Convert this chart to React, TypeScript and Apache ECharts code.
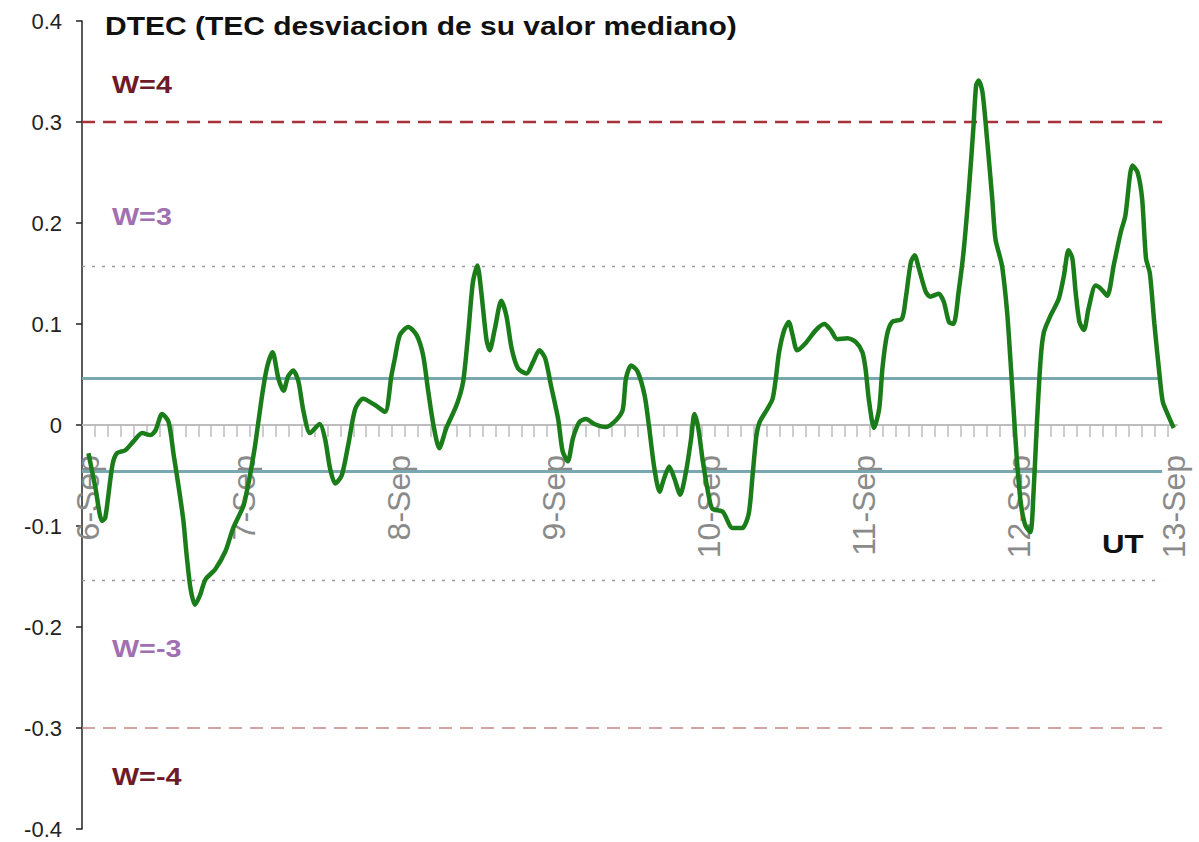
import React, { useEffect, useRef } from "react";
import * as echarts from "echarts";

// ---- Data (hours since 6-Sep 00 UT, DTEC values) ----
const hours = [
  0.0, 1.1, 2.1, 2.6, 3.7, 4.4, 5.7, 7.0, 8.3, 9.6, 10.4, 11.4, 12.4, 13.2, 14.0, 14.7, 15.2, 15.8, 16.5, 17.3,
  18.1, 19.6, 21.2, 22.4, 24.0, 24.5, 25.0, 25.8, 26.8, 27.6, 28.5, 29.4, 30.2, 30.9, 31.7, 32.5, 33.3, 34.3, 35.8, 36.6,
  37.4, 38.2, 39.2, 40.2, 41.3, 42.5, 44.3, 45.9, 46.9, 47.4, 48.2, 49.5, 50.8, 51.8, 52.6, 53.4, 54.3, 55.4, 57.0, 58.0,
  58.8, 59.5, 60.2, 60.8, 61.6, 62.1, 62.9, 63.9, 64.7, 65.5, 66.5, 67.8, 68.8, 69.8, 70.7, 71.6, 72.7, 73.4, 74.2, 75.0,
  76.0, 77.0, 78.3, 80.1, 81.7, 82.7, 83.2, 84.0, 85.0, 86.1, 86.8, 87.6, 88.4, 89.1, 89.9, 90.7, 91.6, 92.5, 93.3, 93.8,
  94.4, 95.1, 96.1, 96.6, 98.2, 99.7, 101.2, 102.2, 102.8, 103.4, 103.9, 105.1, 105.9, 106.4, 106.9, 107.7, 108.4, 109.0, 109.7, 111.0,
  112.6, 113.9, 114.9, 115.9, 117.5, 118.8, 119.8, 120.3, 120.8, 121.6, 122.4, 122.9, 123.6, 124.4, 125.9, 126.5, 127.3, 127.9, 128.5, 129.6,
  130.3, 131.6, 132.4, 133.2, 133.9, 134.7, 135.5, 136.3, 137.0, 137.4, 137.8, 138.4, 139.1, 139.9, 140.4, 141.4, 142.2, 142.7, 143.2, 143.7,
  144.3, 145.0, 145.8, 146.3, 146.8, 147.4, 147.9, 148.9, 150.2, 151.0, 151.7, 152.3, 152.8, 153.4, 154.1, 154.8, 155.9, 156.7, 157.7, 158.7,
  159.8, 160.5, 161.6, 162.4, 163.1, 163.7, 164.3, 165.0, 165.8, 166.3, 167.1, 168.0,
];
const dtec = [
  -0.028, -0.063, -0.095, -0.092, -0.040, -0.028, -0.025, -0.016, -0.008, -0.010, -0.005, 0.011, 0.003, -0.030, -0.063, -0.095, -0.129, -0.162, -0.178, -0.168,
  -0.153, -0.143, -0.125, -0.102, -0.080, -0.066, -0.050, -0.020, 0.026, 0.056, 0.072, 0.046, 0.034, 0.048, 0.054, 0.043, 0.013, -0.008, 0.001, -0.013,
  -0.043, -0.058, -0.050, -0.020, 0.016, 0.026, 0.020, 0.013, 0.049, 0.065, 0.089, 0.097, 0.089, 0.069, 0.033, 0.000, -0.023, -0.003, 0.020, 0.043,
  0.092, 0.141, 0.158, 0.132, 0.085, 0.074, 0.095, 0.123, 0.108, 0.076, 0.056, 0.051, 0.062, 0.074, 0.066, 0.039, 0.006, -0.026, -0.036, -0.013,
  0.003, 0.006, 0.001, -0.002, 0.005, 0.015, 0.046, 0.059, 0.053, 0.029, -0.003, -0.043, -0.066, -0.053, -0.041, -0.053, -0.069, -0.046, -0.013, 0.011,
  -0.003, -0.036, -0.073, -0.083, -0.086, -0.102, -0.102, -0.088, -0.050, -0.010, 0.003, 0.016, 0.026, 0.046, 0.072, 0.094, 0.102, 0.089, 0.074, 0.081,
  0.094, 0.100, 0.094, 0.085, 0.086, 0.082, 0.072, 0.055, 0.025, -0.003, 0.016, 0.056, 0.089, 0.102, 0.105, 0.125, 0.161, 0.168, 0.156, 0.132,
  0.127, 0.130, 0.122, 0.102, 0.100, 0.132, 0.174, 0.234, 0.296, 0.336, 0.341, 0.329, 0.283, 0.224, 0.184, 0.158, 0.112, 0.066, 0.016, -0.033,
  -0.076, -0.099, -0.106, -0.066, 0.000, 0.066, 0.092, 0.108, 0.125, 0.148, 0.173, 0.165, 0.132, 0.102, 0.094, 0.115, 0.138, 0.135, 0.128, 0.158,
  0.191, 0.207, 0.257, 0.250, 0.224, 0.165, 0.150, 0.100, 0.049, 0.023, 0.010, -0.003,
];

const dayLabels = ["6-Sep", "7-Sep", "8-Sep", "9-Sep", "10-Sep", "11-Sep", "12-Sep", "13-Sep"];
const dayTickHours = [0, 24, 48, 72, 96, 120, 144, 168];
const minorTickHours = Array.from({ length: 84 }, (_, i) => 2 * i + 1);

// thresholds
const W4 = 0.3;
const Wm4 = -0.3;
const W3 = 0.157;
const Wm3 = -0.154;
const bandUpper = 0.046;
const bandLower = -0.046;

const X_MIN = -1;
const X_MAX = 168.5;
const LINE_END = 166.2;

const Y_MIN = -0.4;
const Y_MAX = 0.4;
const GRID_TOP = 21;
const GRID_BOTTOM = 13;
const CHART_H = 842;

const FONT = '"Liberation Sans", Arial, sans-serif';

export default function App() {
  const ref = useRef<HTMLDivElement>(null);
  useEffect(() => {
    document.body.style.margin = "0";
    const chart = echarts.init(ref.current!, null, { renderer: "svg" });
    const plotH = CHART_H - GRID_TOP - GRID_BOTTOM;
    // distance from the grid bottom up to the y = 0 line
    const zeroOffset = -plotH * ((0 - Y_MIN) / (Y_MAX - Y_MIN));
    const hline = (v: number, color: string, width: number, type: any) => ({
      type: "line",
      data: [
        [X_MIN, v],
        [LINE_END, v],
      ],
      symbol: "none",
      silent: true,
      lineStyle: { color, width, type },
      z: 2,
    });
    const textEl = (x: number, y: number, text: string, color: string, size: number, sx = 1.2) => ({
      type: "text",
      x,
      y,
      scaleX: sx,
      style: {
        text,
        fill: color,
        font: `bold ${size}px ${FONT}`,
        textVerticalAlign: "middle",
        textAlign: "left",
      },
      z: 10,
    });
    chart.setOption({
      animation: false,
      backgroundColor: "#ffffff",
      grid: {
        left: 82,
        right: 22,
        top: GRID_TOP,
        bottom: GRID_BOTTOM,
        containLabel: false,
        outerBoundsMode: "none",
      },
      xAxis: {
        type: "value",
        min: X_MIN,
        max: X_MAX,
        position: "bottom",
        offset: zeroOffset,
        splitLine: { show: false },
        axisLine: { onZero: false, lineStyle: { color: "#bdbdbd", width: 2 } },
        axisTick: {
          show: true,
          customValues: minorTickHours,
          length: 12,
          lineStyle: { color: "#bdbdbd", width: 1.5 },
        },
        axisLabel: {
          customValues: dayTickHours,
          rotate: 90,
          margin: 30,
          color: "#8a8a8a",
          fontSize: 32,
          fontFamily: FONT,
          formatter: (v: number) => dayLabels[Math.round(v / 24)] ?? "",
        },
      },
      yAxis: {
        type: "value",
        min: Y_MIN,
        max: Y_MAX,
        interval: 0.1,
        splitLine: { show: false },
        axisLine: { show: true, onZero: false, lineStyle: { color: "#222", width: 1.5 } },
        axisTick: { show: true, length: 6, lineStyle: { color: "#222", width: 1.5 } },
        axisLabel: {
          margin: 20,
          color: "#222",
          fontSize: 22,
          fontFamily: FONT,
          formatter: (v: number) => (Math.abs(v) < 1e-9 ? "0" : v.toFixed(1)),
        },
      },
      series: [
        hline(W3, "#9a9a9a", 1.5, [3, 7]),
        hline(Wm3, "#9a9a9a", 1.5, [3, 7]),
        hline(W4, "#a8323a", 2.5, [13, 8]),
        hline(Wm4, "#c48888", 1.5, [13, 8]),
        hline(bandUpper, "#79a8b0", 3, "solid"),
        hline(bandLower, "#79a8b0", 3, "solid"),
        {
          type: "line",
          data: hours.map((h, i) => [h, dtec[i]]),
          symbol: "none",
          smooth: 0.25,
          lineStyle: { color: "#1a7d1a", width: 4.5 },
          z: 5,
        },
      ],
      graphic: [
        textEl(105, 26, "DTEC (TEC desviacion de su valor mediano)", "#111111", 25, 1.2),
        textEl(112, 85, "W=4", "#6e1a28", 23, 1.25),
        textEl(112, 217, "W=3", "#a070b2", 23, 1.25),
        textEl(112, 649, "W=-3", "#a070b2", 23, 1.25),
        textEl(112, 777, "W=-4", "#6e1a28", 23, 1.25),
        textEl(1102, 544, "UT", "#111111", 26, 1.2),
      ],
    });
    return () => chart.dispose();
  }, []);
  return <div ref={ref} style={{ width: 1199, height: 842 }} />;
}
